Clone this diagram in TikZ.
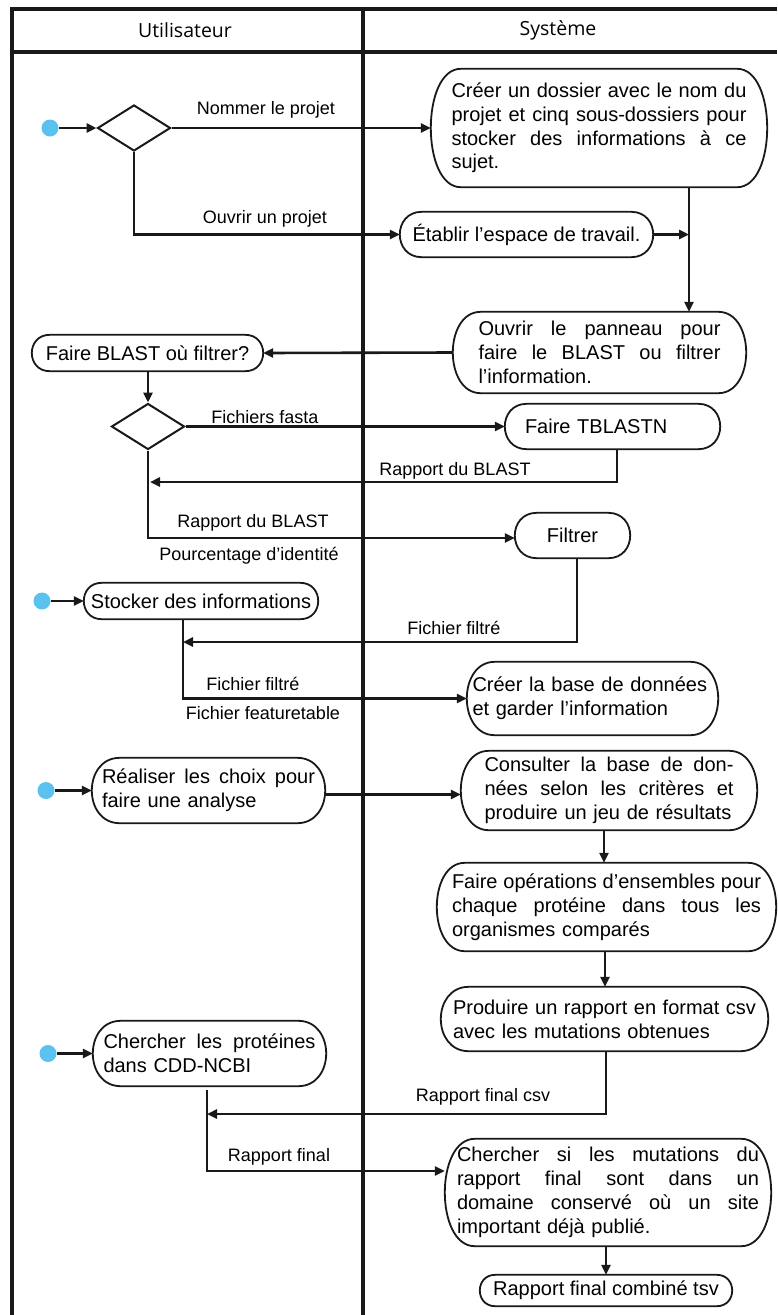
\documentclass[tikz,border=0pt]{standalone}
\usepackage{fontspec}
\setmainfont{Liberation Sans}
\newfontfamily\headfont{Open Sans}
\usetikzlibrary{shapes.geometric,arrows.meta,calc}
\definecolor{dotblue}{HTML}{5BC2F0}
\newcommand\boxtext{\fontsize{20}{23.8}\selectfont}
\newcommand\lbltext{\fontsize{18}{21}\selectfont}
\newcommand\jline[1]{\leavevmode\hbox to\hsize{\spaceskip=0.28em plus 1fil\relax #1}}
\newcommand\actoutline[2]{%
  \draw[boxline] ([xshift=#2]#1.north west) -- ([xshift=-#2]#1.north east)
    .. controls ([xshift=#2/3]#1.north east) and ([xshift=#2/3]#1.south east) .. ([xshift=-#2]#1.south east)
    -- ([xshift=#2]#1.south west)
    .. controls ([xshift=-#2/3]#1.south west) and ([xshift=-#2/3]#1.north west) .. cycle;}
\begin{document}
\begin{tikzpicture}[x=1pt,y=-1pt,
  frame/.style={line width=3.5pt, line join=miter, black!90},
  boxline/.style={line width=1.8pt, black!90},
  act/.style={rectangle, inner sep=0pt, font=\boxtext, align=center},
  actj/.style={act, align=left},
  decision/.style={diamond, draw, line width=2pt, black!90, minimum width=73pt, minimum height=46pt, inner sep=0pt},
  startdot/.style={circle, fill=dotblue, minimum size=17pt, inner sep=0pt},
  conn/.style={line width=2.6pt, black!90, -{Triangle[length=10pt,width=9pt]}},
  lbl/.style={font=\lbltext, anchor=base, inner sep=0pt},
  head/.style={font=\headfont\fontsize{19.5}{22}\selectfont, inner sep=0pt}]
\useasboundingbox (0,0) rectangle (777,1315);
\fill[white] (0,0) rectangle (777,1315);

% swimlane frame
\draw[frame] (777,9) -- (12,9) -- (12,1315);
\draw[frame] (10,52) -- (777,52);
\draw[frame] (363,9) -- (363,1315);
\node[head] (hU) at (185,30) {Utilisateur};
\node[head] (hS) at (558,30) {Système};

% start dots
\node[startdot] (s1) at (50,128) {};
\node[startdot] (s2) at (42,601) {};
\node[startdot] (s3) at (46,790.5) {};
\node[startdot] (s4) at (48,1053.5) {};

% decisions
\node[decision] (d1) at (134,128) {};
\node[decision] (d2) at (148,426.5) {};

% activities
\node[actj, minimum width=336pt, minimum height=118pt, text width=295pt] (cree) at (599,128)
 {\jline{Créer un dossier avec le nom du}\\\jline{projet et cinq sous-dossiers pour}\\\jline{stocker des informations à ce}\\sujet.};
\actoutline{cree}{30}
\node[act, minimum width=253pt, minimum height=45pt] (etab) at (526.5,234.5) {Établir l’espace de travail.};
\actoutline{etab}{22}
\node[actj, minimum width=293pt, minimum height=81pt, text width=242pt] (ouvrir) at (599.5,352.5)
 {\jline{Ouvrir le panneau pour}\\\jline{faire le BLAST ou filtrer}\\l’information.};
\actoutline{ouvrir}{28}
\node[act, minimum width=231pt, minimum height=36pt] (faireb) at (147.5,353) {Faire BLAST où filtrer?};
\actoutline{faireb}{18}
\node[actj, minimum width=215pt, minimum height=45pt, text width=175pt] (tblastn) at (612.5,426.5) {Faire TBLASTN};
\actoutline{tblastn}{22}
\node[act, minimum width=115pt, minimum height=45pt] (filtrer) at (572.5,535.5) {Filtrer};
\actoutline{filtrer}{22}
\node[act, minimum width=234pt, minimum height=36pt] (stocker) at (201,601) {Stocker des informations};
\actoutline{stocker}{18}
\node[actj, minimum width=251pt, minimum height=73pt, text width=240pt] (creerbase) at (592.5,698.5)
 {Créer la base de données\\et garder l’information};
\actoutline{creerbase}{28}
\node[actj, minimum width=233pt, minimum height=65pt, text width=213pt] (realiser) at (208.5,790.5)
 {\jline{Réaliser les choix pour}\\faire une analyse};
\actoutline{realiser}{28}
\node[actj, minimum width=296pt, minimum height=79pt, text width=249pt] (consulter) at (609,790.5)
 {\jline{Consulter la base de don-}\\\jline{nées selon les critères et}\\produire un jeu de résultats};
\actoutline{consulter}{28}
\node[actj, minimum width=339pt, minimum height=88pt, text width=309pt] (operations) at (606.5,907)
 {\jline{Faire opérations d’ensembles pour}\\\jline{chaque protéine dans tous les}\\organismes comparés};
\actoutline{operations}{28}
\node[actj, minimum width=327pt, minimum height=64pt, text width=303pt] (produire) at (604.5,1019)
 {\jline{Produire un rapport en format csv}\\avec les mutations obtenues};
\actoutline{produire}{28}
\node[actj, minimum width=233pt, minimum height=65pt, text width=212pt] (chercherp) at (209.5,1053.5)
 {\jline{Chercher les protéines}\\dans CDD-NCBI};
\actoutline{chercherp}{28}
\node[actj, minimum width=326pt, minimum height=107pt, text width=302pt] (cherchersi) at (608,1192.5)
 {\jline{Chercher si les mutations du}\\\jline{rapport final sont dans un}\\\jline{domaine conservé où un site}\\important déjà publié.};
\actoutline{cherchersi}{30}
\node[act, minimum width=252pt, minimum height=31pt] (final) at (606,1290.5) {Rapport final combiné tsv};
\actoutline{final}{15.5}

% junction coordinates
\coordinate (j1) at (689,234.5);
\coordinate (r1) at (150,482);
\coordinate (r2) at (183,642);
\coordinate (r3) at (207,1114);

% connectors
\draw[conn] (s1) -- (d1.west);
\draw[conn] (d1.east) -- (cree.west);
\draw[conn] (d1.south) |- (etab.west);
\draw[conn] (cree.south -| j1) -- (ouvrir.north -| j1);
\draw[conn] (etab.east) -- (j1);
\draw[conn] (ouvrir.west) -- (faireb.east);
\draw[conn] (faireb.south -| d2.north) -- (d2.north);
\draw[conn] (d2.east) -- (tblastn.west);
\draw[conn] (tblastn.south -| 617,0) |- (r1);
\draw[conn] (d2.south) |- ([yshift=-2.5pt]filtrer.west);
\draw[conn] (filtrer.south -| 577,0) |- (r2);
\draw[conn] (s2) -- (stocker.west);
\draw[conn] (stocker.south -| r2) |- (creerbase.west);
\draw[conn] (s3) -- (realiser.west);
\draw[conn] ([yshift=-4pt]realiser.east) -- ([yshift=-4pt]consulter.west);
\draw[conn] (consulter.south -| 604,0) -- (operations.north -| 604,0);
\draw[conn] (operations.south -| 605,0) -- (produire.north -| 605,0);
\draw[conn] (produire.south -| 606,0) |- (r3);
\draw[conn] (s4) -- (chercherp.west);
\draw[conn] ([yshift=-4pt]chercherp.south -| r3) |- ([yshift=21.5pt]cherchersi.west);
\draw[conn] (cherchersi.south -| final.north) -- (final.north);

% labels
\node[lbl] (l1) at (266,114) {Nommer le projet};
\node[lbl] (l2) at (265,223) {Ouvrir un projet};
\node[lbl] (l3) at (265,423) {Fichiers fasta};
\node[lbl] (l4) at (455,475) {Rapport du BLAST};
\node[lbl] (l5) at (253,527) {Rapport du BLAST};
\node[lbl] (l6) at (249,560) {Pourcentage d’identité};
\node[lbl] (l7) at (454,634) {Fichier filtré};
\node[lbl] (l8) at (253,690) {Fichier filtré};
\node[lbl] (l9) at (263,719) {Fichier featuretable};
\node[lbl] (l10) at (483,1101) {Rapport final csv};
\node[lbl] (l11) at (279,1161) {Rapport final};
\end{tikzpicture}
\end{document}
